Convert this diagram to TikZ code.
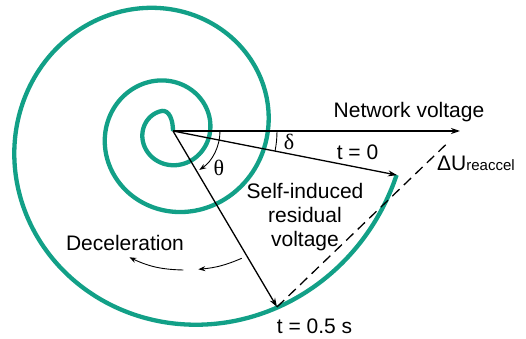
\documentclass[tikz,border=0pt]{standalone}
\usepackage{fontspec}
\setmainfont{Liberation Sans}
\newfontfamily\greekfont{Liberation Serif}
\usetikzlibrary{arrows.meta, calc}
\definecolor{spiralteal}{RGB}{18, 160, 135}
\tikzset{
  >=Stealth,
  vecarrow/.style={-{Stealth[length=9pt, width=6pt]}, line width=1.3pt, black},
  decelarrow/.style={-{Stealth[length=7pt, width=5pt]}, line width=0.9pt, black},
  spiralline/.style={line width=4.3pt, spiralteal},
  lbl/.style={font=\fontsize{21}{24}\selectfont, inner sep=0pt},
  greeklbl/.style={font=\fontsize{22}{24}\selectfont\greekfont, inner sep=0pt}
}

\begin{document}
\begin{tikzpicture}[x=1pt, y=1pt]
    \useasboundingbox (-169,-207) rectangle (357,132);

    \coordinate (O) at (4,1);
    \coordinate (net) at (291,1);
    \coordinate (t0) at (228,-43.1);
    \coordinate (t05) at (108,-175);
    \coordinate (d1s) at (72.7,-126.3);
    \coordinate (d1e) at (29.3,-137.3);
    \coordinate (d2s) at (14.3,-138);
    \coordinate (d2e) at (-39.7,-125.3);

    % spiral
    \draw[spiralline] (O) .. controls (4,12) and (0.2,22.6) .. (-7.6,20.9)
        -- plot[domain=-250:709.3, samples=400, smooth]
        ({41*exp(0.0024435*\x)*cos(\x)}, {41*exp(0.0024435*\x)*sin(\x)});

    \draw[vecarrow] (O) -- (net);
    \draw[vecarrow] (O) -- (t0);
    \draw[vecarrow] (O) -- (t05);
    \draw[line width=1.3pt, dashed, dash pattern=on 10pt off 6pt] (t05) -- ($(t05)!0.93!(net)$);

    % angles
    \draw[line width=0.9pt] ($(O)+(104,0)$) arc[start angle=0, end angle=-11.1, radius=104];
    \draw[decelarrow] ($(O)+(47,0)$) arc[start angle=0, end angle=-56, radius=47];

    \draw[decelarrow] (d1s) to[bend left=9] (d1e);
    \draw[decelarrow] (d2s) to[bend left=12] (d2e);

    \node (netlbl) [lbl, anchor=base] at (240,14) {Network voltage};
    \node (t0lbl) [lbl, anchor=base] at (188.5,-28) {t = 0};
    \node (dulbl) [lbl, anchor=base west] at (268,-39) {ΔU{\fontsize{15}{16}\selectfont reaccel}};
    \node (selflbl) [lbl, align=center, anchor=center] at (136,-85) {Self-induced\\residual\\voltage};
    \node (decellbl) [lbl, anchor=base] at (-44,-118) {Deceleration};
    \node (t05lbl) [lbl, anchor=base] at (145.5,-201) {t = 0.5 s};
    \node (deltalbl) [greeklbl] at (120,-10) {δ};
    \node (thetalbl) [greeklbl] at (50,-36) {θ};
\end{tikzpicture}
\end{document}
